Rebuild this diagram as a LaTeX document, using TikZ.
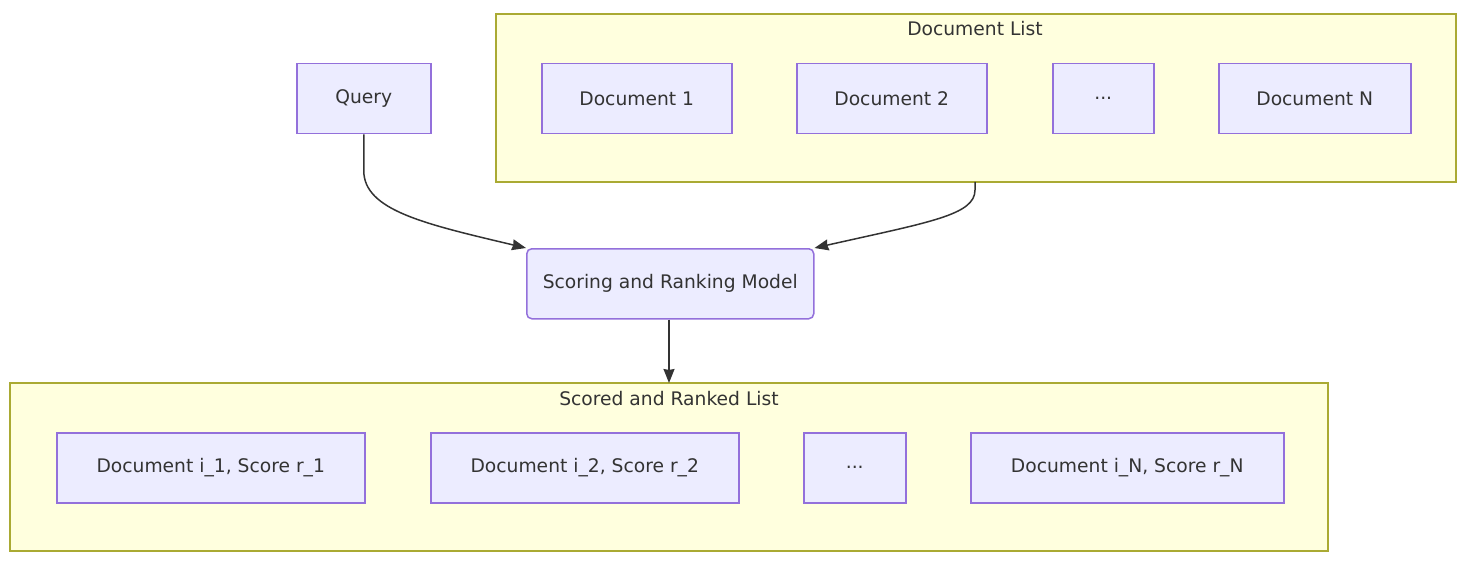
\documentclass[tikz,border=0pt]{standalone}
\usepackage{fontspec}
\setmainfont{DejaVu Sans}
\usetikzlibrary{arrows.meta}
\definecolor{nodefill}{HTML}{ECECFF}
\definecolor{nodeline}{HTML}{9370DB}
\definecolor{clfill}{HTML}{FFFFDE}
\definecolor{clline}{HTML}{AAAA33}
\definecolor{txt}{HTML}{333333}
\tikzset{
  x=1pt, y=-1pt,
  box/.style={draw=nodeline, fill=nodefill, line width=1.5pt, inner sep=0pt,
    text=txt, font=\fontsize{18.7}{22}\selectfont, anchor=north west},
  cluster/.style={draw=clline, fill=clfill, line width=1.5pt},
  cltitle/.style={text=txt, font=\fontsize{18.7}{22}\selectfont},
  conn/.style={draw=txt, line width=1.5pt, -{Stealth[length=14pt,width=11pt,inset=1pt]}}
}
\begin{document}
\begin{tikzpicture}
\useasboundingbox (0,0) rectangle (1467,564);
% clusters
\draw[cluster] (496,14) rectangle (1456,182);
\coordinate (dlbot) at (975,182);
\node[cltitle] (dltitle) at (975,29) {Document List};
\draw[cluster] (10,383) rectangle (1328,551);
\coordinate (srtop) at (669,383);
\node[cltitle] (srtitle) at (669,399) {Scored and Ranked List};
% nodes
\node[box, minimum width=134pt, minimum height=70pt] (q) at (296,63) {Query};
\node[box, minimum width=190pt, minimum height=70pt] (d1) at (541,63) {Document 1};
\node[box, minimum width=190pt, minimum height=70pt] (d2) at (796,63) {Document 2};
\node[box, minimum width=101pt, minimum height=70pt] (dd) at (1052,63) {...};
\node[box, minimum width=192pt, minimum height=70pt] (dn) at (1218,63) {Document N};
\node[box, rounded corners=5pt, minimum width=287pt, minimum height=70pt] (m) at (526,248) {Scoring and Ranking Model};
\node[box, minimum width=308pt, minimum height=70pt] (s1) at (56,432) {Document i\_1, Score r\_1};
\node[box, minimum width=308pt, minimum height=70pt] (s2) at (430,432) {Document i\_2, Score r\_2};
\node[box, minimum width=102pt, minimum height=70pt] (sd) at (803,432) {...};
\node[box, minimum width=313pt, minimum height=70pt] (sn) at (970,432) {Document i\_N, Score r\_N};
% connectors
\draw[conn] (q.south) -- ++(0,36) .. controls +(0,40) and (425,224) .. (m.north west);
\draw[conn] (dlbot) -- ++(0,8) .. controls +(0,25) and (930,222) .. (m.north east);
\draw[conn] (srtop |- m.south) -- (srtop);
\end{tikzpicture}
\end{document}
